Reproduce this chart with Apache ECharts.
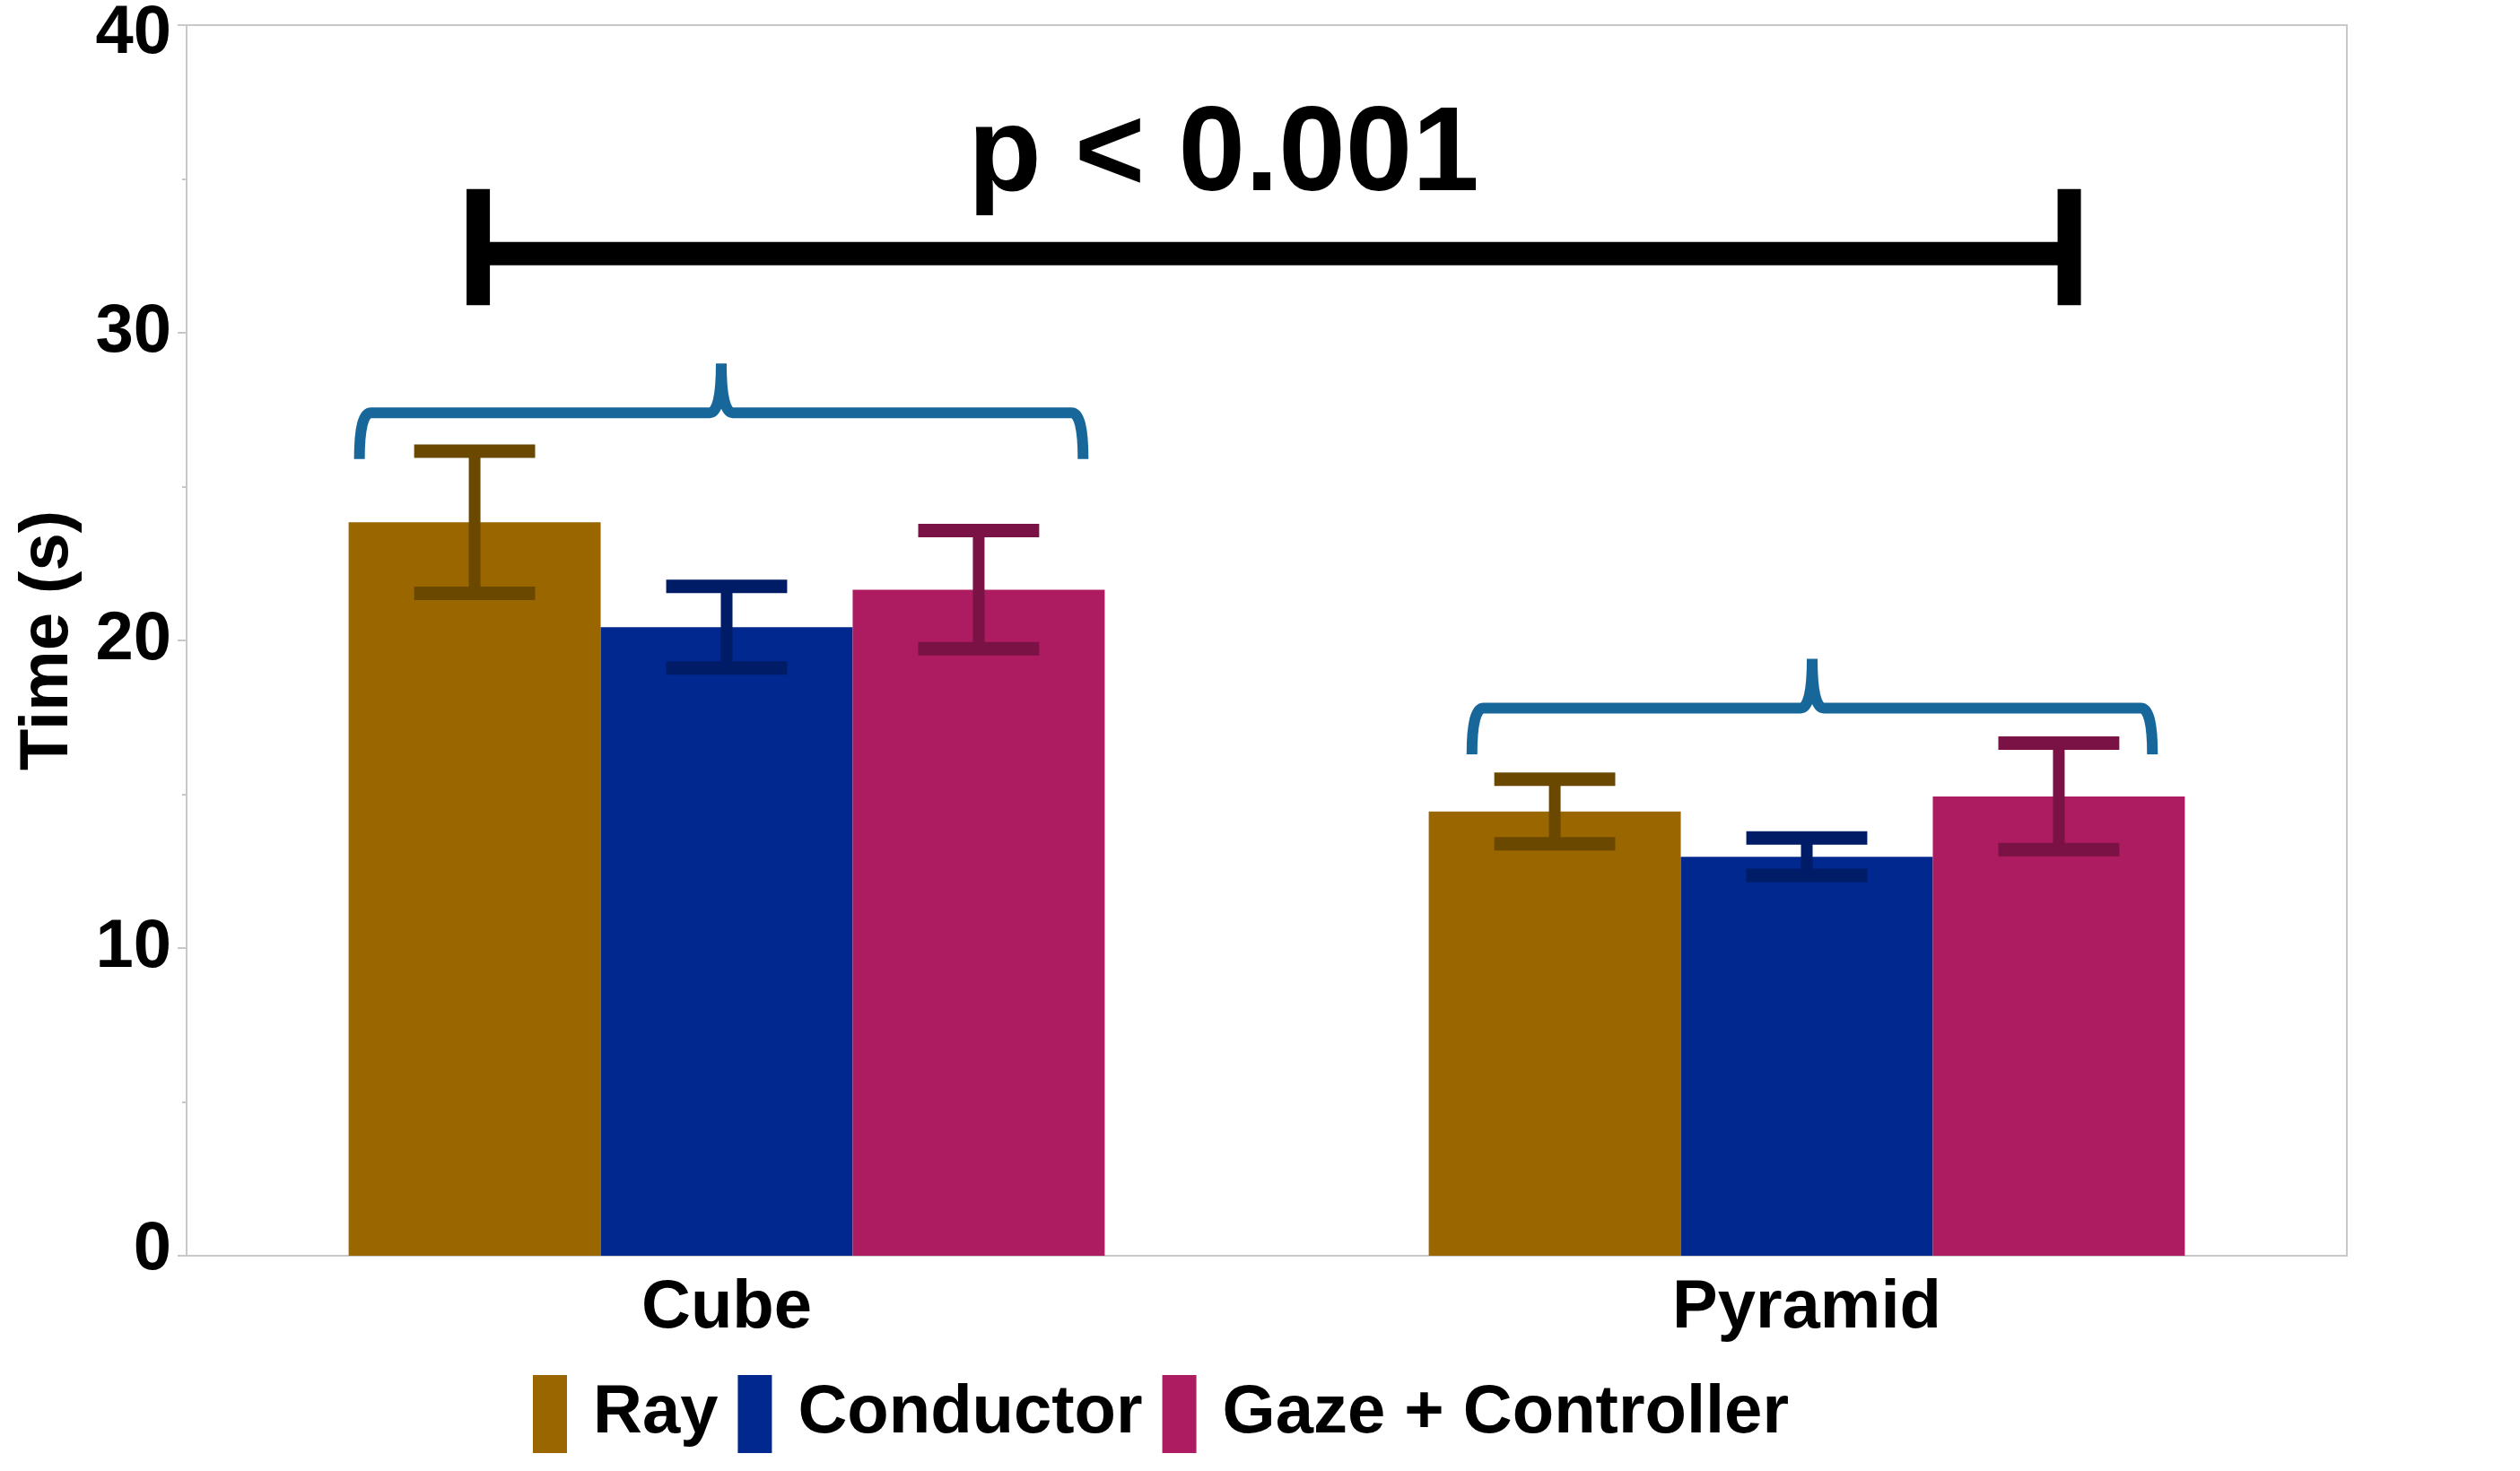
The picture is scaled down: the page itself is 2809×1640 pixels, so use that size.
<!DOCTYPE html>
<html>
<head>
<meta charset="utf-8">
<script src="https://cdn.jsdelivr.net/npm/echarts/dist/echarts.min.js"></script>
<style>
  html, body { margin: 0; padding: 0; background: #fff; }
  #chart { width: 2809px; height: 1640px; }
</style>
</head>
<body>
<div id="chart"></div>
<script>
const categories = ['Cube', 'Pyramid'];
const methods = ['Ray', 'Conductor', 'Gaze + Controller'];
const rayMean = [23.84, 14.44];
const rayErr = [2.31, 1.05];
const conductorMean = [20.43, 12.97];
const conductorErr = [1.33, 0.61];
const gazeMean = [21.65, 14.93];
const gazeErr = [1.92, 1.73];

// braces over each group (value units; left/right in category units)
const braceEnd = [25.9, 16.3];
const braceLevel = [27.4, 17.8];
const braceTip = [29.0, 19.4];
const braceLeft = [-0.34, -0.31];
const braceRight = [0.33, 0.32];

// significance bar between the two groups
const sigLevel = 32.57;
const sigCapLow = 30.9;
const sigCapHigh = 34.67;
const sigLeft = -0.23;
const sigRight = 1.243;
const sigLabel = 'p < 0.001';
const sigLabelX = 0.46;
const sigLabelY = 35.7;

const FONT = '"Liberation Sans", Arial, Helvetica, sans-serif';
const GAP = 0.3;
const barColors = ['#996600', '#00288f', '#ad1c60'];
const errColors = ['#6b4800', '#001c66', '#7a1245'];
const braceColor = '#17679a';
const axisGrey = '#c8c8c8';
const labelStyle = { fontSize: 76, fontWeight: 'bold', color: '#000', fontFamily: FONT };

const errorSeries = (means, errs, idx) => ({
  type: 'custom',
  name: methods[idx] + ' error',
  z: 5,
  data: means.map((m, i) => [i, m - errs[i], m + errs[i]]),
  renderItem: (params, api) => {
    const band = api.size([1, 0])[0];
    const barW = band * (1 - GAP) / 3;
    const lo = api.coord([api.value(0), api.value(1)]);
    const hi = api.coord([api.value(0), api.value(2)]);
    const x = lo[0] + (idx - 1) * barW;
    const capW = barW * 0.48;
    const fill = errColors[idx];
    return {
      type: 'group',
      children: [
        { type: 'rect', shape: { x: x - 6.5, y: hi[1], width: 13, height: lo[1] - hi[1] }, style: { fill } },
        { type: 'rect', shape: { x: x - capW / 2, y: hi[1] - 7.5, width: capW, height: 15 }, style: { fill } },
        { type: 'rect', shape: { x: x - capW / 2, y: lo[1] - 7.5, width: capW, height: 15 }, style: { fill } }
      ]
    };
  }
});

const chart = echarts.init(document.getElementById('chart'));

chart.setOption({
  animation: false,
  backgroundColor: '#fff',
  textStyle: { fontFamily: FONT },
  grid: {
    left: 208, right: 193, top: 24, bottom: 240,
    show: true, borderColor: axisGrey, borderWidth: 2
  },
  legend: {
    data: methods,
    left: 589,
    top: 1528,
    icon: 'rect',
    itemWidth: 38,
    itemHeight: 87,
    itemGap: 22,
    textStyle: Object.assign({}, labelStyle, { padding: [0, 0, 0, 24] })
  },
  xAxis: {
    type: 'category',
    data: categories,
    axisLine: { lineStyle: { color: axisGrey, width: 2 } },
    axisTick: { show: false },
    axisLabel: Object.assign({}, labelStyle, { margin: 21 })
  },
  yAxis: {
    type: 'value',
    min: 0,
    max: 40,
    interval: 10,
    name: 'Time (s)',
    nameLocation: 'middle',
    nameGap: 116,
    nameTextStyle: labelStyle,
    axisLine: { show: true, lineStyle: { color: axisGrey, width: 2 } },
    axisTick: { show: true, length: 10, lineStyle: { color: axisGrey, width: 2 } },
    minorTick: { show: true, splitNumber: 2, length: 5, lineStyle: { color: axisGrey, width: 2 } },
    splitLine: { show: false },
    axisLabel: Object.assign({}, labelStyle, {
      margin: 17,
      // end labels sit inside the axis range, as in the original
      formatter: (v) => v === 40 ? '{top|' + v + '}' : v === 0 ? '{bot|' + v + '}' : String(v),
      rich: {
        top: Object.assign({}, labelStyle, { padding: [20, 0, 0, 0] }),
        bot: Object.assign({}, labelStyle, { padding: [0, 0, 12, 0] })
      }
    })
  },
  series: [
    { type: 'bar', name: methods[0], data: rayMean, itemStyle: { color: barColors[0] }, barGap: '0%', barCategoryGap: '30%' },
    { type: 'bar', name: methods[1], data: conductorMean, itemStyle: { color: barColors[1] }, barGap: '0%', barCategoryGap: '30%' },
    { type: 'bar', name: methods[2], data: gazeMean, itemStyle: { color: barColors[2] }, barGap: '0%', barCategoryGap: '30%' },
    errorSeries(rayMean, rayErr, 0),
    errorSeries(conductorMean, conductorErr, 1),
    errorSeries(gazeMean, gazeErr, 2),
    {
      type: 'custom',
      name: 'braces',
      z: 6,
      data: braceEnd.map((e, i) => [i, e, braceLevel[i], braceTip[i]]),
      renderItem: (params, api) => {
        const i = api.value(0);
        const band = api.size([1, 0])[0];
        const c = api.coord([i, api.value(1)]);
        const yE = c[1];
        const yL = api.coord([i, api.value(2)])[1];
        const yT = api.coord([i, api.value(3)])[1];
        const xL = c[0] + braceLeft[i] * band;
        const xR = c[0] + braceRight[i] * band;
        const xM = (xL + xR) / 2;
        const r = 13;
        const d = `M${xL},${yE} Q${xL},${yL} ${xL + r},${yL} L${xM - r},${yL} Q${xM},${yL} ${xM},${yT} ` +
                  `M${xM},${yT} Q${xM},${yL} ${xM + r},${yL} L${xR - r},${yL} Q${xR},${yL} ${xR},${yE}`;
        return {
          type: 'path',
          shape: { pathData: d },
          style: { fill: null, stroke: braceColor, lineWidth: 12 }
        };
      }
    },
    {
      type: 'custom',
      name: 'significance',
      z: 6,
      data: [[0, sigLevel, sigCapLow, sigCapHigh]],
      renderItem: (params, api) => {
        const band = api.size([1, 0])[0];
        const c0 = api.coord([0, api.value(1)]);
        const y = c0[1];
        const yLo = api.coord([0, api.value(2)])[1];
        const yHi = api.coord([0, api.value(3)])[1];
        const xL = c0[0] + sigLeft * band;
        const xR = c0[0] + sigRight * band;
        const yText = api.coord([0, sigLabelY])[1];
        return {
          type: 'group',
          children: [
            { type: 'rect', shape: { x: xL, y: y - 13, width: xR - xL, height: 26 }, style: { fill: '#000' } },
            { type: 'rect', shape: { x: xL - 13, y: yHi, width: 26, height: yLo - yHi }, style: { fill: '#000' } },
            { type: 'rect', shape: { x: xR - 13, y: yHi, width: 26, height: yLo - yHi }, style: { fill: '#000' } },
            {
              type: 'text',
              style: {
                text: sigLabel,
                x: c0[0] + sigLabelX * band,
                y: yText,
                align: 'center',
                verticalAlign: 'middle',
                fontSize: 134,
                fontWeight: 'bold',
                fontFamily: FONT,
                fill: '#000'
              }
            }
          ]
        };
      }
    }
  ]
});
</script>
</body>
</html>
